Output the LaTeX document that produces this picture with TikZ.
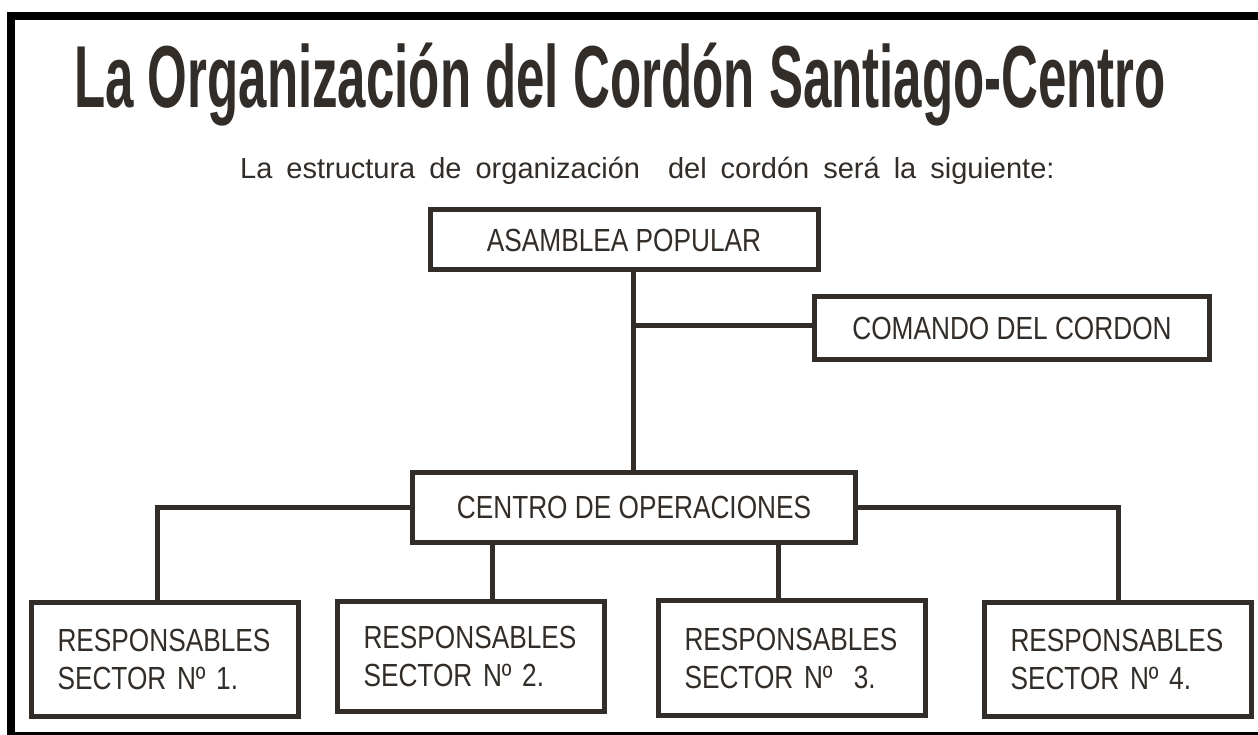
\documentclass[tikz,border=0pt]{standalone}
\usepackage{fontspec}
\setmainfont{Liberation Sans}
\newfontfamily\titlefont[FakeStretch=0.58]{Liberation Sans}
\newfontfamily\boxfont[FakeStretch=0.82]{Liberation Sans}
\newfontfamily\introfont{Liberation Sans}
\usepackage{tikz}
\definecolor{inkdark}{RGB}{50,45,40}

\begin{document}
\begin{tikzpicture}[x=1pt, y=-1pt,
    box/.style={draw=inkdark, line width=5pt, inner sep=0pt, text=inkdark,
        font=\boxfont\fontsize{32}{38}\selectfont},
    sectorbox/.style={box, text width=215pt, inner xsep=26pt, inner ysep=0pt, align=left},
    link/.style={draw=inkdark, line width=5pt}]
    \useasboundingbox (0,0) rectangle (1258,735);
    \fill[white] (0,0) rectangle (1258,735);
    \fill[black] (7,12) rectangle (15,735);
    \fill[black] (7,12) rectangle (1258,20);
    \fill[black] (7,732) rectangle (1258,735);

    \node[anchor=base west, text=inkdark, inner sep=0pt,
        font=\titlefont\bfseries\fontsize{88}{88}\selectfont] (title) at (74,108)
        {La Organización del Cordón Santiago-Centro};
    \node[anchor=base west, text=inkdark, inner sep=0pt,
        font=\introfont\fontsize{29}{29}\selectfont] (intro) at (240,179)
        {\spaceskip=14pt\relax La estructura de organización \ del cordón será la siguiente:};

    \node[box, minimum width=388pt, minimum height=60pt] (asamblea) at (624,240) {ASAMBLEA POPULAR};
    \node[box, minimum width=395pt, minimum height=63pt] (comando) at (1012,328) {COMANDO DEL CORDON};
    \node[box, minimum width=443pt, minimum height=70pt] (centro) at (634,507) {CENTRO DE OPERACIONES};

    \node[sectorbox, minimum height=114pt] (sec1) at (165,659) {RESPONSABLES\\SECTOR Nº 1.};
    \node[sectorbox, minimum height=110pt] (sec2) at (471,656) {RESPONSABLES\\SECTOR Nº 2.};
    \node[sectorbox, minimum height=115pt] (sec3) at (792,658) {RESPONSABLES\\SECTOR Nº \ 3.};
    \node[sectorbox, minimum height=114pt] (sec4) at (1118,659) {RESPONSABLES\\SECTOR Nº 4.};

    \coordinate (trunk) at (633,325);
    \coordinate (drop1) at (157,0);
    \coordinate (drop2) at (492,0);
    \coordinate (drop3) at (778,0);
    \draw[link] (asamblea.south -| trunk) -- (centro.north -| trunk);
    \draw[link] (trunk) -- (comando.west |- trunk);
    \draw[link] (centro.west) -| (sec1.north -| drop1);
    \draw[link] (centro.east) -| (sec4.north);
    \draw[link] (centro.south -| drop2) -- (sec2.north -| drop2);
    \draw[link] (centro.south -| drop3) -- (sec3.north -| drop3);
\end{tikzpicture}
\end{document}
